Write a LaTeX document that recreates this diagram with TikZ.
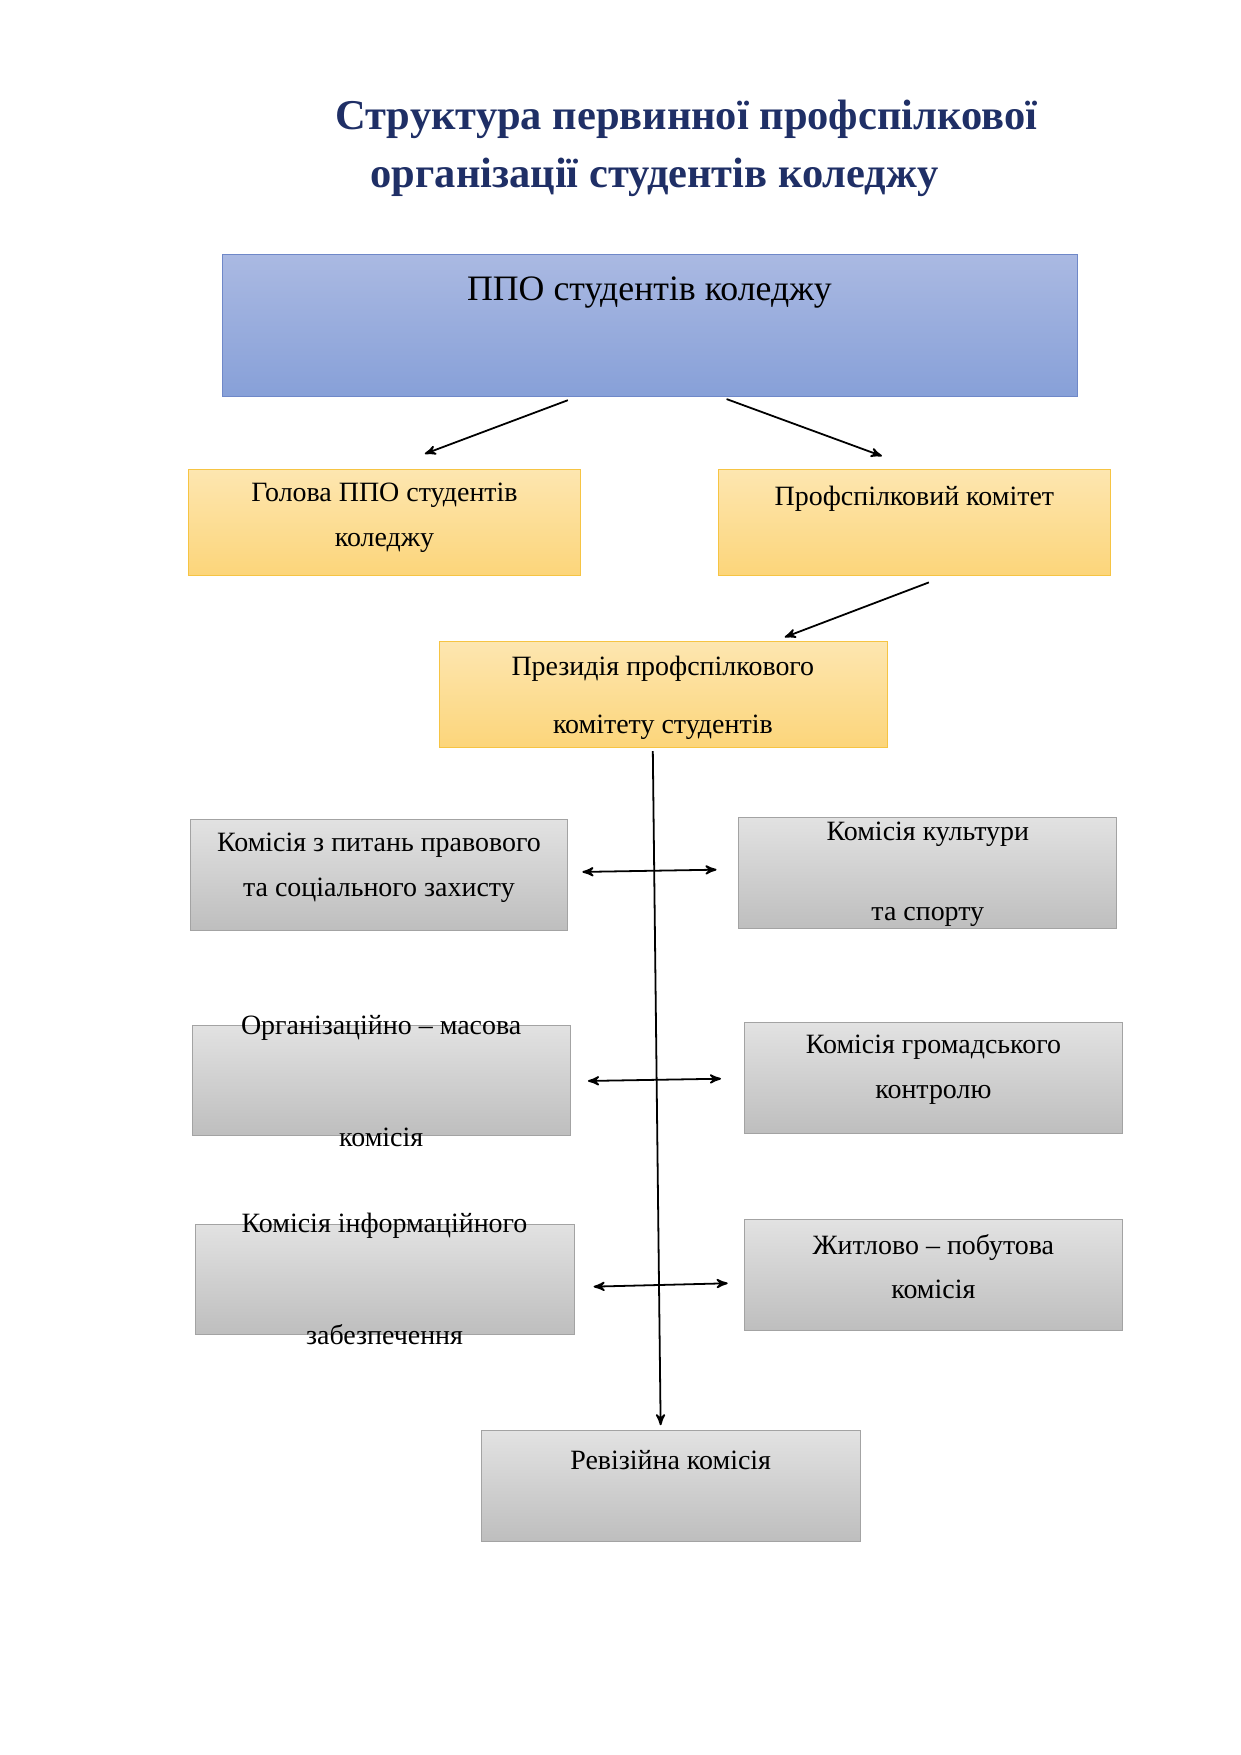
\documentclass[tikz,border=0pt]{standalone}
\usepackage{fontspec}
\setmainfont{Liberation Serif}
\usetikzlibrary{arrows}
\definecolor{titleblue}{HTML}{1F2F66}
\definecolor{bluetop}{HTML}{AAB9E2}
\definecolor{bluebot}{HTML}{87A0D8}
\definecolor{blueline}{HTML}{6F88C8}
\definecolor{orgtop}{HTML}{FDE6B0}
\definecolor{orgbot}{HTML}{FCD57A}
\definecolor{orgline}{HTML}{F6C443}
\definecolor{grytop}{HTML}{E2E2E2}
\definecolor{grybot}{HTML}{BEBEBE}
\definecolor{gryline}{HTML}{A3A3A3}
\begin{document}
\begin{tikzpicture}[x=0.5pt,y=-0.5pt,>=stealth',thick,
    blue box/.style={draw=blueline,top color=bluetop,bottom color=bluebot,thin},
    org box/.style={draw=orgline,top color=orgtop,bottom color=orgbot,thin},
    gry box/.style={draw=gryline,top color=grytop,bottom color=grybot,thin},
    lbl/.style={align=center,font=\fontsize{12.5}{20}\selectfont}]
  \useasboundingbox (0,0) rectangle (1110,1570);

  \node[align=center,text=titleblue,font=\fontsize{19}{26}\bfseries] (title) at (614,133)
    {Структура первинної профспілкової\\ \hspace*{-1.5em}організації студентів коледжу};

  % boxes
  \draw[blue box] (199,228) rectangle (964,355);
  \node[font=\fontsize{16}{20}\selectfont] (ppo) at (581,262) {ППО студентів коледжу};
  \draw[org box] (169,420) rectangle (519,515);
  \node[lbl] (head) at (344,463) {Голова ППО студентів\\коледжу};
  \draw[org box] (643,420) rectangle (993,515);
  \node[lbl] (com) at (818,446) {Профспілковий комітет};
  \draw[org box] (393,574) rectangle (794,669);
  \node[lbl,font=\fontsize{12.5}{26}\selectfont] (pres) at (593,624) {Президія профспілкового\\комітету студентів};

  \draw[gry box] (170,733) rectangle (508,832);
  \node[lbl] (c1) at (339,776) {Комісія з питань правового\\та соціального захисту};
  \draw[gry box] (661,731) rectangle (999,831);
  \node[lbl,font=\fontsize{12.5}{36}\selectfont] (c2) at (830,782) {Комісія культури\\та спорту};
  \draw[gry box] (172,917) rectangle (510,1016);
  \node[lbl,font=\fontsize{12.5}{50}\selectfont] (c3) at (341,967) {Організаційно -- масова\\комісія};
  \draw[gry box] (666,915) rectangle (1004,1014);
  \node[lbl] (c4) at (835,957) {Комісія громадського\\контролю};
  \draw[gry box] (175,1095) rectangle (514,1194);
  \node[lbl,font=\fontsize{12.5}{50}\selectfont] (c5) at (344,1144) {Комісія інформаційного\\забезпечення};
  \draw[gry box] (666,1091) rectangle (1004,1190);
  \node[lbl] (c6) at (835,1133) {Житлово -- побутова\\комісія};
  \draw[gry box] (431,1280) rectangle (770,1379);
  \node[lbl] (rev) at (600,1306) {Ревізійна комісія};

  % connectors
  \coordinate (a1) at (508,358); \coordinate (b1) at (380,406);
  \coordinate (a2) at (650,357); \coordinate (b2) at (789,408);
  \coordinate (a3) at (831,521); \coordinate (b3) at (702,570);
  \coordinate (v1) at (584,672); \coordinate (v2) at (591,1275);
  \draw[->] (a1) -- (b1);
  \draw[->] (a2) -- (b2);
  \draw[->] (a3) -- (b3);
  \draw[->] (v1) -- (v2);
  \coordinate (l1) at (521,780); \coordinate (r1) at (641,778);
  \coordinate (l2) at (526,967); \coordinate (r2) at (645,965);
  \coordinate (l3) at (531,1151); \coordinate (r3) at (651,1148);
  \foreach \i in {1,2,3}
    \draw[<->] (l\i) -- (r\i);
\end{tikzpicture}
\end{document}
